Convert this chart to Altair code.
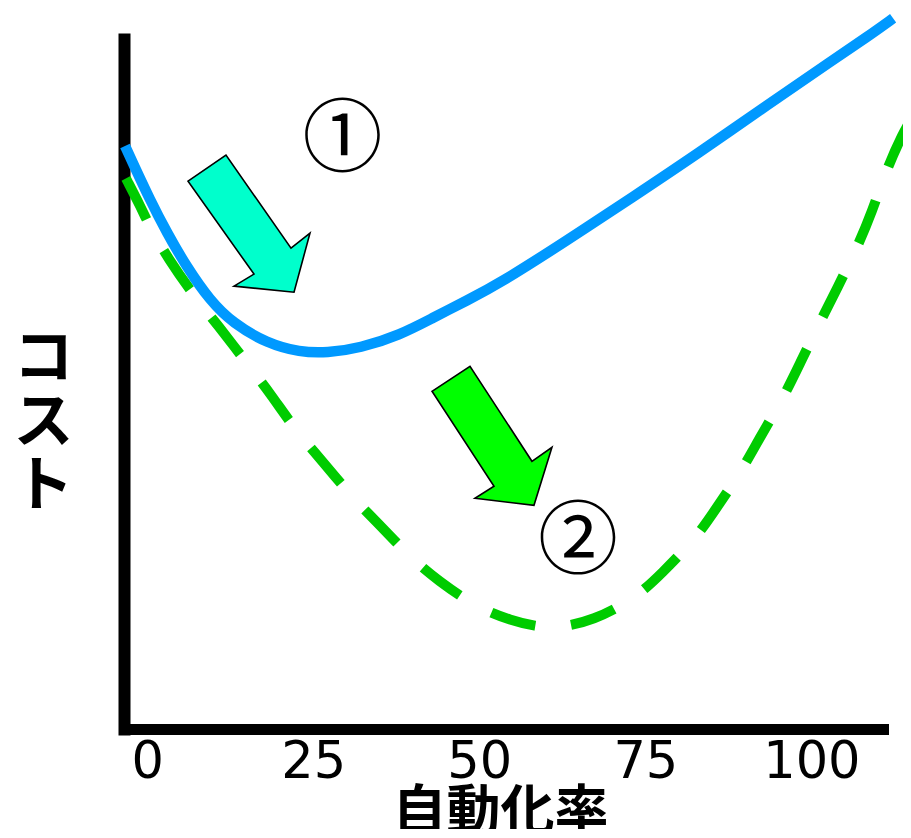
import altair as alt
import pandas as pd

# ---- data (x: 自動化率, y: コスト in arbitrary units) ----
blue_x = [-3.34, -2.14, 0.42, 2.98, 5.99, 9.45, 12.92, 18.04, 23.0, 27.07, 32.04,
          38.06, 43.03, 48.15, 53.1, 63.2, 73.1, 83.2, 93.3, 103.3, 108.4, 112.3]
blue_y = [84.5, 82.0, 76.7, 71.9, 66.9, 62.1, 58.8, 55.9, 54.6, 54.5, 55.2,
          57.1, 59.6, 62.1, 64.6, 70.8, 77.1, 83.6, 90.4, 97.0, 100.3, 103.0]

green_x = [-3.19, -0.93, 0.42, 3.13, 7.20, 10.66, 15.03, 18.49, 22.55, 26.32, 30.83,
           34.60, 39.57, 43.78, 49.65, 54.92, 58.39, 61.70, 67.13, 73.45, 77.51,
           82.48, 85.48, 89.55, 92.26, 95.72, 98.28, 101.3, 103.9, 106.9, 109.1,
           111.4, 113.8, 115.0]
green_y = [79.8, 75.6, 72.7, 68.2, 62.6, 58.5, 53.0, 48.7, 43.0, 38.9, 33.6,
           30.0, 24.9, 21.5, 17.6, 15.7, 14.9, 14.6, 15.7, 18.9, 22.6,
           27.5, 31.7, 37.5, 42.3, 47.9, 53.0, 59.0, 63.9, 69.8, 74.9,
           81.3, 86.4, 88.3]

arrow_x = [15.33, 51.91]
arrow_y = [73.24, 42.49]

label_x = [29.4, 64.86]
label_y = [85.2, 27.0]
label_text = ["①", "②"]

x_ticks = [0, 25, 50, 75, 100]

# ---- styles ----
CYAN_ARROW = "M-0.871,-0.607L-0.329,-0.979L0.6,0.35L0.871,0.136L0.643,0.979L-0.214,0.893L0.071,0.721Z"
GREEN_ARROW = "M-0.857,-0.636L-0.314,-0.993L0.571,0.364L0.857,0.164L0.6,0.993L-0.243,0.893L0.029,0.721Z"

blue_df = pd.DataFrame({"x": blue_x, "y": blue_y})
green_df = pd.DataFrame({"x": green_x, "y": green_y})
arrow1_df = pd.DataFrame({"x": arrow_x[:1], "y": arrow_y[:1]})
arrow2_df = pd.DataFrame({"x": arrow_x[1:], "y": arrow_y[1:]})
label_df = pd.DataFrame({"x": label_x, "y": label_y, "t": label_text})

xscale = alt.Scale(domain=[-3.49, 110.78], nice=False, zero=False)
yscale = alt.Scale(domain=[0, 100], nice=False, zero=False)

xaxis = alt.Axis(
    title="自動化率", values=x_ticks, grid=False, ticks=False, tickSize=0,
    domainColor="black", domainWidth=11, domainCap="square",
    labelFont="DejaVu Sans", labelFontSize=51, labelColor="black",
    labelPadding=8, labelFlush=False, labelOverlap=False,
    titleFont="Noto Sans CJK JP", titleFontSize=54, titleFontWeight="bold",
    titleColor="black", titleX=376, titleY=100, titleBaseline="alphabetic",
    titleAlign="center",
)
yaxis = alt.Axis(
    title=["コ", "ス", "ト"], labels=False, ticks=False, tickSize=0, grid=False,
    domainColor="black", domainWidth=12, domainCap="square",
    titleFont="Noto Sans CJK JP", titleFontSize=60, titleFontWeight="bold",
    titleColor="black", titleAngle=0, titleAlign="center", titleBaseline="middle",
    titleLineHeight=64, titleX=-81, titleY=320,
)

X = alt.X("x:Q", scale=xscale, axis=xaxis)
Y = alt.Y("y:Q", scale=yscale, axis=yaxis)

green = alt.Chart(green_df).mark_line(
    color="#00CC00", strokeWidth=10, strokeDash=[46, 36], interpolate="basis",
    strokeCap="butt", clip=False
).encode(x=X, y=Y)

blue = alt.Chart(blue_df).mark_line(
    color="#0099FF", strokeWidth=10.5, interpolate="basis", clip=False
).encode(x=X, y=Y)

arrow1 = alt.Chart(arrow1_df).mark_point(
    shape=CYAN_ARROW, size=19600, fill="#00FFCC", stroke="black", strokeWidth=1.6,
    fillOpacity=1, strokeOpacity=1, opacity=1
).encode(x=X, y=Y)

arrow2 = alt.Chart(arrow2_df).mark_point(
    shape=GREEN_ARROW, size=19600, fill="#00FF00", stroke="black", strokeWidth=1.6,
    fillOpacity=1, strokeOpacity=1, opacity=1
).encode(x=X, y=Y)

labels = alt.Chart(label_df).mark_text(
    font="Noto Sans CJK JP", fontSize=80, color="black", align="center",
    baseline="middle"
).encode(x=X, y=Y, text="t:N")

chart = alt.layer(green, blue, arrow1, arrow2, labels).properties(
    width=759, height=690,
    background="white",
    autosize=alt.AutoSizeParams(type="none"),
    padding={"left": 116, "top": 31, "right": 20, "bottom": 100},
).configure_view(strokeWidth=0, stroke="transparent")

chart.save("out.html", embed_options={"renderer": "svg", "actions": False})
